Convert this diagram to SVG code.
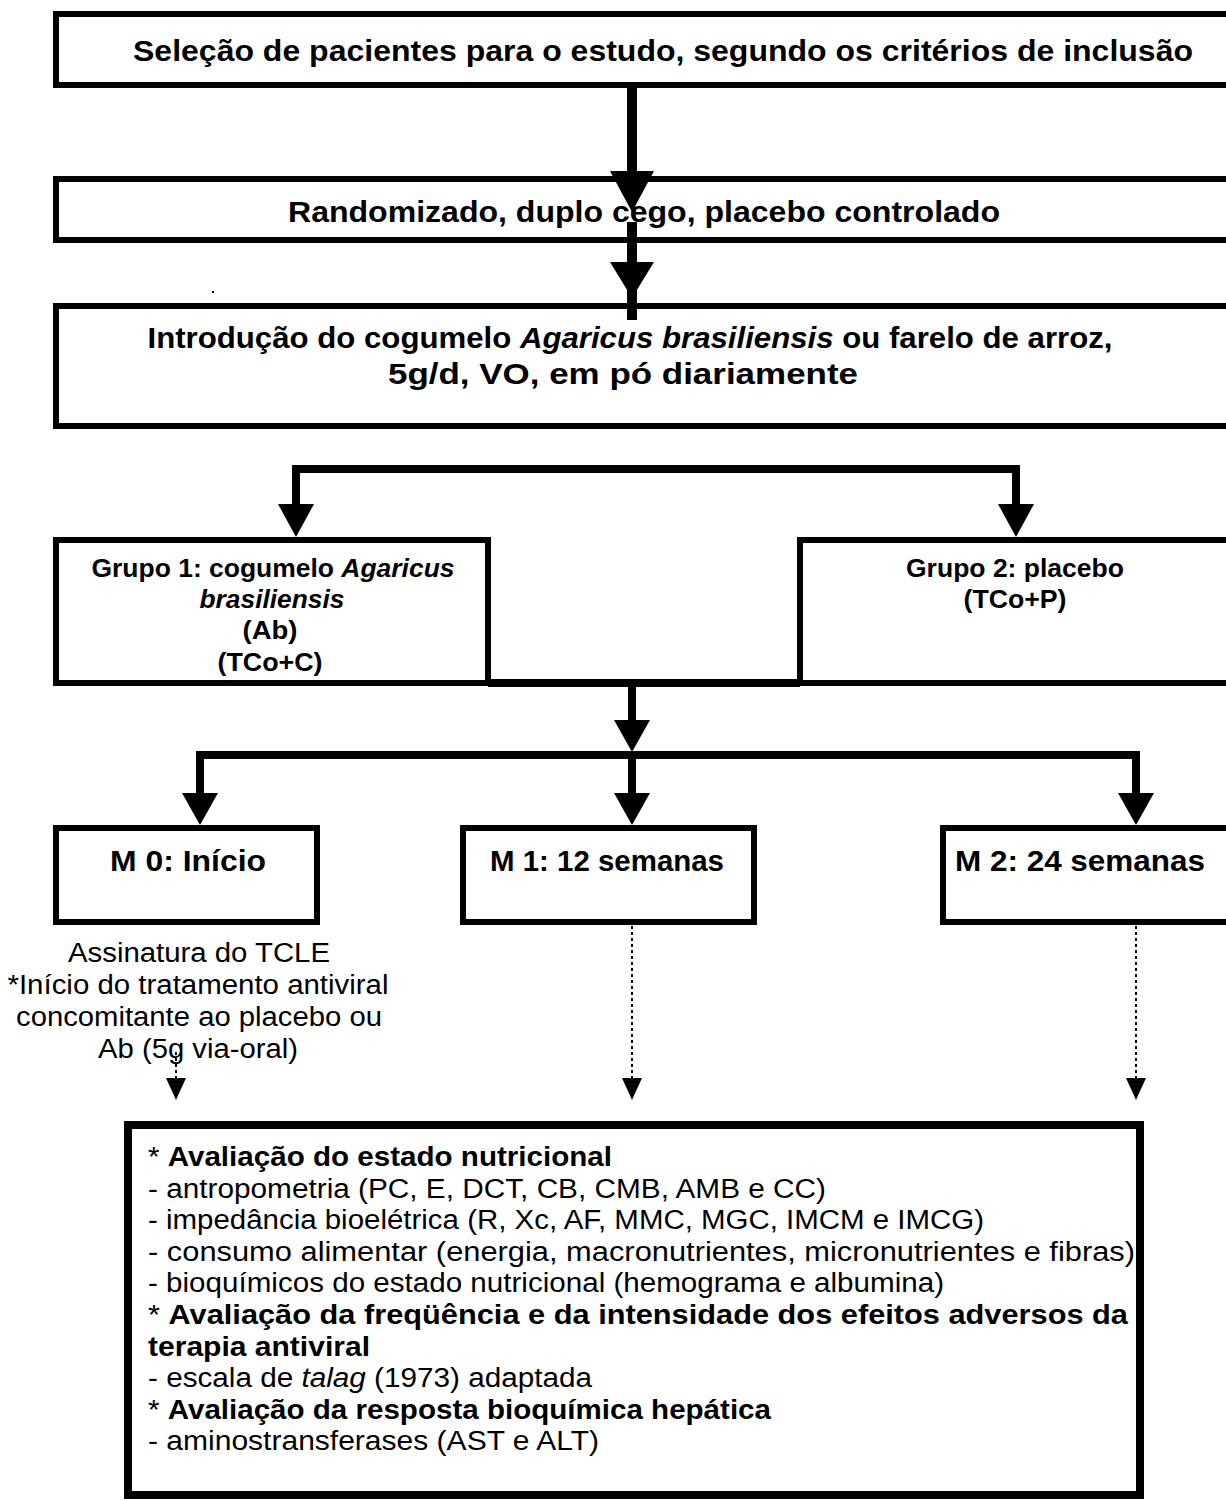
<svg xmlns="http://www.w3.org/2000/svg" width="1226" height="1501" viewBox="0 0 1226 1501">
<style>
.box{fill:#fff;stroke:#000;stroke-width:6}
.big{fill:#fff;stroke:#000;stroke-width:8}
.t{font-family:"Liberation Sans",Arial,sans-serif;fill:#000}
.b{font-weight:bold}
.c{text-anchor:middle}
.i{font-style:italic}
.ln{stroke:#000;fill:none}
.dot{stroke:#000;stroke-width:2;stroke-dasharray:3 3;fill:none}
</style>
<rect width="1226" height="1501" fill="#fff"/>
<g id="n1"><rect class="box" x="56" y="14" width="1200" height="71"/>
<text class="t b c" x="663" y="61" font-size="30" textLength="1060" lengthAdjust="spacingAndGlyphs">Seleção de pacientes para o estudo, segundo os critérios de inclusão</text></g>
<g id="n2"><rect class="box" x="56" y="179" width="1200" height="61"/>
<text class="t b c" x="644" y="222" font-size="30" textLength="712" lengthAdjust="spacingAndGlyphs">Randomizado, duplo cego, placebo controlado</text></g>
<g id="n3"><rect class="box" x="56" y="306" width="1200" height="120"/>
<text class="t b c" x="630" y="348" font-size="30" textLength="965" lengthAdjust="spacingAndGlyphs">Introdução do cogumelo <tspan class="i">Agaricus brasiliensis</tspan> ou farelo de arroz,</text>
<text class="t b c" x="623" y="384" font-size="30" textLength="470" lengthAdjust="spacingAndGlyphs">5g/d, VO, em pó diariamente</text></g>
<rect x="212" y="291" width="2" height="2" fill="#000"/>
<g id="g1"><rect class="box" x="56" y="540" width="432" height="143"/>
<g class="t b c" font-size="25">
<text x="273" y="577" textLength="363" lengthAdjust="spacingAndGlyphs">Grupo 1: cogumelo <tspan class="i">Agaricus</tspan></text>
<text class="i" x="272" y="608" textLength="145" lengthAdjust="spacingAndGlyphs">brasiliensis</text>
<text x="270" y="639" textLength="55" lengthAdjust="spacingAndGlyphs">(Ab)</text>
<text x="270" y="671" textLength="105" lengthAdjust="spacingAndGlyphs">(TCo+C)</text>
</g></g>
<g id="g2"><rect class="box" x="800" y="540" width="450" height="143"/>
<g class="t b c" font-size="25">
<text x="1015" y="577" textLength="218" lengthAdjust="spacingAndGlyphs">Grupo 2: placebo</text>
<text x="1015" y="608" textLength="103" lengthAdjust="spacingAndGlyphs">(TCo+P)</text>
</g></g>
<g id="m0"><rect class="box" x="56" y="828" width="261" height="94"/>
<text class="t b c" x="188" y="871" font-size="30" textLength="156" lengthAdjust="spacingAndGlyphs">M 0: Início</text></g>
<g id="m1"><rect class="box" x="463" y="828" width="291" height="94"/>
<text class="t b c" x="607" y="871" font-size="30" textLength="234" lengthAdjust="spacingAndGlyphs">M 1: 12 semanas</text></g>
<g id="m2"><rect class="box" x="943" y="828" width="300" height="94"/>
<text class="t b c" x="1080" y="871" font-size="30" textLength="250" lengthAdjust="spacingAndGlyphs">M 2: 24 semanas</text></g>
<g id="m0note" class="t c" font-size="27">
<text x="199" y="962" textLength="262" lengthAdjust="spacingAndGlyphs">Assinatura do TCLE</text>
<text x="198" y="994" textLength="381" lengthAdjust="spacingAndGlyphs">*Início do tratamento antiviral</text>
<text x="199" y="1026" textLength="366" lengthAdjust="spacingAndGlyphs">concomitante ao placebo ou</text>
<text x="198" y="1058" textLength="200" lengthAdjust="spacingAndGlyphs">Ab (5g via-oral)</text>
</g>
<g id="n_eval"><rect class="big" x="128" y="1125" width="1012" height="370"/>
<g class="t" font-size="27">
<text x="148" y="1166" textLength="464" lengthAdjust="spacingAndGlyphs">* <tspan class="b">Avaliação do estado nutricional</tspan></text>
<text x="148" y="1198" textLength="678" lengthAdjust="spacingAndGlyphs">- antropometria (PC, E, DCT, CB, CMB, AMB e CC)</text>
<text x="148" y="1229" textLength="836" lengthAdjust="spacingAndGlyphs">- impedância bioelétrica (R, Xc, AF, MMC, MGC, IMCM e IMCG)</text>
<text x="148" y="1261" textLength="987" lengthAdjust="spacingAndGlyphs">- consumo alimentar (energia, macronutrientes, micronutrientes e fibras)</text>
<text x="148" y="1292" textLength="796" lengthAdjust="spacingAndGlyphs">- bioquímicos do estado nutricional (hemograma e albumina)</text>
<text x="148" y="1324" textLength="980" lengthAdjust="spacingAndGlyphs">* <tspan class="b">Avaliação da freqüência e da intensidade dos efeitos adversos da</tspan></text>
<text x="148" y="1356" class="b" textLength="222" lengthAdjust="spacingAndGlyphs">terapia antiviral</text>
<text x="148" y="1387" textLength="444" lengthAdjust="spacingAndGlyphs">- escala de <tspan class="i">talag</tspan> (1973) adaptada</text>
<text x="148" y="1419" textLength="623" lengthAdjust="spacingAndGlyphs">* <tspan class="b">Avaliação da resposta bioquímica hepática</tspan></text>
<text x="148" y="1450" textLength="451" lengthAdjust="spacingAndGlyphs">- aminostransferases (AST e ALT)</text>
</g></g>
<g id="connectors">
<line class="ln" x1="632" y1="85" x2="632" y2="180" stroke-width="10"/>
<polygon points="610,171 654,171 632,212"/>
<line class="ln" x1="632" y1="222" x2="632" y2="320" stroke-width="10"/>
<polygon points="610,262 654,262 632,298"/>
<path class="ln" stroke-width="8" d="M296,510 V469 H1016 V510"/>
<polygon points="278,504 314,504 296,537"/>
<polygon points="998,504 1034,504 1016,537"/>
<path class="ln" stroke-width="8" d="M488,683 H800 M632,683 V725"/>
<polygon points="614,720 650,720 632,752"/>
<path class="ln" stroke-width="8" d="M200,800 V755 H1136 V800 M632,755 V800"/>
<polygon points="182,793 218,793 200,825"/>
<polygon points="614,793 650,793 632,825"/>
<polygon points="1118,793 1154,793 1136,825"/>
<path class="dot" d="M632,926 V1080 M1136,926 V1080 M176,1052 V1080"/>
<polygon points="622,1078 642,1078 632,1100"/>
<polygon points="1126,1078 1146,1078 1136,1100"/>
<polygon points="166,1078 186,1078 176,1100"/>
</g>
</svg>
